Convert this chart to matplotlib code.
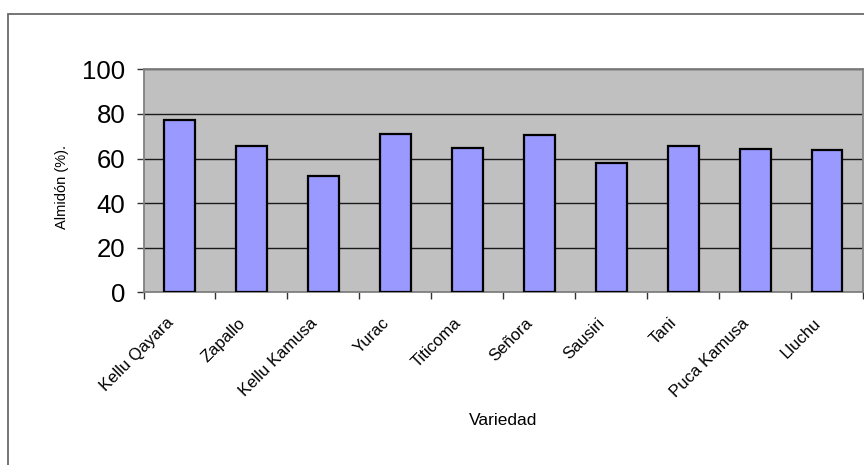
import matplotlib
matplotlib.use("Agg")
import matplotlib.pyplot as plt
from matplotlib.patches import Rectangle
from matplotlib.transforms import ScaledTranslation

variedades = ["Kellu Qayara", "Zapallo", "Kellu Kamusa", "Yurac", "Titicoma",
              "Señora", "Sausiri", "Tani", "Puca Kamusa", "Lluchu"]
almidon = [77.4, 65.7, 52.2, 71.1, 64.8, 70.4, 58.1, 65.6, 64.1, 63.6]
y_ticks = [0, 20, 40, 60, 80, 100]

plt.rcParams["font.family"] = ["Liberation Sans", "DejaVu Sans"]

W, H = 864, 465
fig = plt.figure(figsize=(W / 100, H / 100), dpi=100)
fig.patch.set_facecolor("white")

# chart-area frame
fig.patches.append(Rectangle((8 / W, -0.1), 1.2, 1 - 14 / H + 0.1,
                             transform=fig.transFigure, fill=False,
                             edgecolor="#6a6a6a", linewidth=1.3, zorder=0))

left, right, top, bottom = 143.5, 863, 69.3, 292.3
ax = fig.add_axes([left / W, 1 - bottom / H, (right - left) / W, (bottom - top) / H])
ax.set_facecolor("#c0c0c0")

x = list(range(len(variedades)))
ax.bar(x, almidon, width=0.43, color="#9999ff", edgecolor="black",
       linewidth=1.6, zorder=3)

ax.set_xlim(-0.5, len(variedades) - 0.5)
ax.set_ylim(0, 100)
ax.set_yticks(y_ticks)
ax.set_yticklabels([str(v) for v in y_ticks], fontsize=18.5)
ax.yaxis.grid(True, color="#1a1a1a", linewidth=1.0, zorder=1)
ax.set_axisbelow(True)

ax.set_xticks([i + 0.5 for i in range(-1, len(variedades))], minor=False)
ax.set_xticklabels([])
ax.set_xticks(x, minor=True)
ax.set_xticklabels(variedades, minor=True, rotation=45, ha="right",
                   va="top", rotation_mode="anchor", fontsize=12)
ax.tick_params(axis="x", which="minor", length=0, pad=0)
ax.tick_params(axis="x", which="major", length=5, width=1, color="#333333")
ax.tick_params(axis="y", length=5, width=1, color="#333333", pad=8)

shift = ScaledTranslation(-14 / 100, -23 / 100, fig.dpi_scale_trans)
for lbl in ax.get_xticklabels(minor=True):
    lbl.set_transform(lbl.get_transform() + shift)

for s in ["top", "right", "left", "bottom"]:
    ax.spines[s].set_color("#808080")
    ax.spines[s].set_linewidth(1.3)

fig.text(62 / W, 1 - 187 / H, "Almidón (%).", fontsize=10.5, rotation=90,
         ha="center", va="center")
fig.text(503 / W, 1 - 420 / H, "Variedad", fontsize=12.5, ha="center", va="center")

fig.savefig("out.png", dpi=100)
